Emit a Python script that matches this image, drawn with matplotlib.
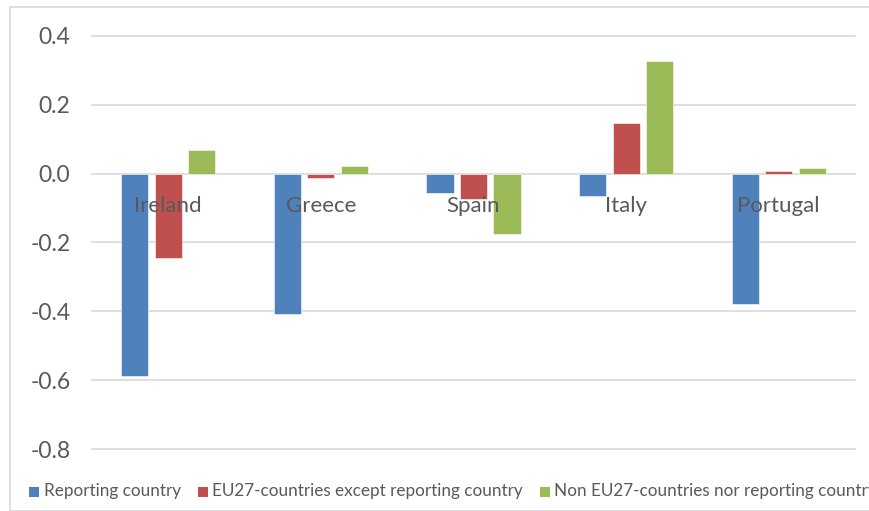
import matplotlib
matplotlib.use("Agg")
import matplotlib.pyplot as plt
from matplotlib.patches import Rectangle
import numpy as np

categories = ["Ireland", "Greece", "Spain", "Italy", "Portugal"]
series_names = ["Reporting country", "EU27-countries except reporting country",
                "Non EU27-countries nor reporting country"]
reporting = [-0.587, -0.407, -0.055, -0.064, -0.378]
eu27_other = [-0.244, -0.012, -0.073, 0.148, 0.009]
non_eu27 = [0.070, 0.023, -0.174, 0.328, 0.017]
yticks = [-0.8, -0.6, -0.4, -0.2, 0.0, 0.2, 0.4]

colors = ["#4F81BD", "#C0504D", "#9BBB59"]
text_color = "#595959"
grid_color = "#D9D9D9"
font = ["Lato", "DejaVu Sans"]

W, H = 869, 511
fig = plt.figure(figsize=(W / 100, H / 100), dpi=100)
fig.patch.set_facecolor("white")

# chart border
fig.add_artist(Rectangle((10 / W, 0), 1, 1 - 7 / H, transform=fig.transFigure,
                         fill=False, edgecolor=grid_color, linewidth=1.2))

ax = fig.add_axes([92 / W, 1 - 449 / H, (855 - 92) / W, (449 - 36) / H])
ax.set_xlim(-0.5, len(categories) - 0.5)
ax.set_ylim(-0.8, 0.4)
for s in ax.spines.values():
    s.set_visible(False)

for t in yticks:
    ax.axhline(t, color=grid_color, linewidth=1.2, zorder=0, clip_on=False)

x = np.arange(len(categories))
width = 0.178
offset = 0.22
for i, vals in enumerate([reporting, eu27_other, non_eu27]):
    ax.bar(x + (i - 1) * offset, vals, width=width, color=colors[i], zorder=2,
           edgecolor="white", linewidth=0.4)

ax.set_xticks([])
ax.set_yticks(yticks)
ax.set_yticklabels([f"{t:.1f}" for t in yticks], fontsize=16.5, color=text_color,
                   family=font)
ax.tick_params(axis="y", length=0, pad=15.5)

for xi, c in zip(x, categories):
    ax.annotate(c, xy=(xi, 0), xytext=(0, -32 * 0.72), textcoords="offset points",
                ha="center", va="center", fontsize=16, color=text_color,
                family=font, zorder=3)

# legend (manual, clipped at right edge as in reference)
sq_x = [29, 198, 540]
tx_x = [44, 212, 554]
for i, name in enumerate(series_names):
    fig.add_artist(Rectangle((sq_x[i] / W, 1 - 497 / H), 10 / W, 10 / H,
                             transform=fig.transFigure, facecolor=colors[i],
                             edgecolor="none"))
    fig.text(tx_x[i] / W, 1 - 491 / H, name, ha="left", va="center",
             fontsize=12.3, color=text_color, family=font)

fig.savefig("out.png", dpi=100)
